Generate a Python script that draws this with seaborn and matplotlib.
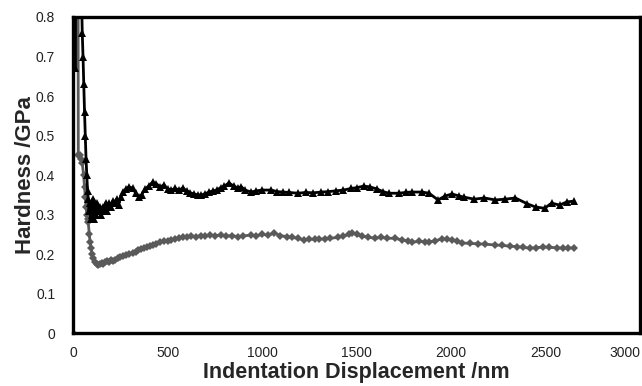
import numpy as np
import pandas as pd
import matplotlib
matplotlib.use("Agg")
import matplotlib.pyplot as plt
import seaborn as sns

# Hardness vs indentation displacement
black_x = [0, 4, 10, 16, 40, 44, 48, 52, 56, 60, 64, 68, 72, 76, 80, 84, 88, 92, 96,
           100, 105, 110, 115, 120, 126, 132, 140, 148, 156, 164, 172, 180, 190, 200,
           210, 220, 230, 240, 252, 266, 280, 295, 314, 330, 346, 362, 380, 400, 420,
           440, 460, 480, 500, 516, 540, 560, 580, 600, 620, 640, 660, 676, 700, 720,
           740, 760, 780, 800, 824, 850, 870, 890, 910, 941, 970, 1000, 1048, 1080,
           1110, 1140, 1191, 1230, 1270, 1314, 1350, 1390, 1430, 1470, 1500, 1537,
           1570, 1606, 1640, 1670, 1723, 1760, 1793, 1846, 1883, 1931, 1968, 2005,
           2043, 2069, 2122, 2176, 2234, 2287, 2340, 2404, 2447, 2495, 2532, 2574,
           2612, 2650]
black_h = [0.0, 1.2, 0.67, 1.2, 1.2, 0.85, 0.76, 0.70, 0.63, 0.56, 0.50, 0.44, 0.40,
           0.36, 0.34, 0.31, 0.33, 0.29, 0.32, 0.30, 0.34, 0.29, 0.33, 0.30, 0.33,
           0.31, 0.32, 0.30, 0.32, 0.31, 0.33, 0.31, 0.33, 0.32, 0.335, 0.33, 0.34,
           0.325, 0.345, 0.357, 0.365, 0.37, 0.367, 0.355, 0.344, 0.35, 0.365, 0.372,
           0.382, 0.378, 0.37, 0.375, 0.365, 0.362, 0.366, 0.362, 0.367, 0.36, 0.355,
           0.352, 0.35, 0.349, 0.353, 0.357, 0.36, 0.362, 0.368, 0.372, 0.38, 0.372,
           0.368, 0.37, 0.362, 0.357, 0.36, 0.362, 0.362, 0.358, 0.357, 0.356, 0.354,
           0.356, 0.355, 0.357, 0.358, 0.36, 0.362, 0.366, 0.368, 0.372, 0.37, 0.365,
           0.358, 0.354, 0.354, 0.356, 0.357, 0.357, 0.354, 0.337, 0.347, 0.352,
           0.347, 0.344, 0.339, 0.342, 0.337, 0.339, 0.342, 0.327, 0.319, 0.316,
           0.329, 0.324, 0.332, 0.334]

gray_x = [0, 4, 25, 27, 35, 42, 48, 55, 60, 64, 68, 72, 76, 80, 85, 90, 95, 100, 107,
          115, 124, 133, 142, 150, 160, 170, 180, 190, 200, 210, 223, 235, 250, 265,
          280, 297, 314, 330, 345, 360, 375, 390, 405, 420, 440, 460, 480, 500, 516,
          540, 560, 580, 600, 625, 650, 675, 700, 725, 750, 782, 810, 840, 870, 900,
          941, 970, 1000, 1030, 1064, 1095, 1130, 1160, 1190, 1223, 1250, 1280, 1300,
          1330, 1360, 1400, 1430, 1460, 1473, 1500, 1527, 1560, 1596, 1630, 1660,
          1702, 1740, 1770, 1793, 1830, 1860, 1883, 1915, 1952, 1980, 2005, 2030,
          2059, 2100, 2140, 2180, 2234, 2270, 2310, 2350, 2380, 2415, 2450, 2484,
          2520, 2560, 2590, 2617, 2650]
gray_h = [0.0, 1.2, 1.2, 0.45, 0.45, 0.44, 0.43, 0.40, 0.37, 0.344, 0.32, 0.30, 0.29,
          0.28, 0.25, 0.23, 0.215, 0.20, 0.19, 0.18, 0.175, 0.172, 0.175, 0.178,
          0.176, 0.18, 0.182, 0.18, 0.185, 0.183, 0.185, 0.19, 0.192, 0.195, 0.198,
          0.20, 0.202, 0.205, 0.21, 0.212, 0.215, 0.218, 0.22, 0.223, 0.225, 0.23,
          0.232, 0.234, 0.235, 0.238, 0.24, 0.243, 0.242, 0.245, 0.244, 0.247, 0.245,
          0.248, 0.247, 0.248, 0.245, 0.247, 0.244, 0.246, 0.248, 0.246, 0.25, 0.248,
          0.253, 0.247, 0.244, 0.242, 0.24, 0.235, 0.238, 0.237, 0.238, 0.238, 0.24,
          0.242, 0.245, 0.25, 0.253, 0.25, 0.245, 0.243, 0.24, 0.242, 0.24, 0.24,
          0.236, 0.233, 0.23, 0.232, 0.231, 0.23, 0.234, 0.238, 0.238, 0.236, 0.232,
          0.228, 0.227, 0.226, 0.225, 0.223, 0.222, 0.22, 0.219, 0.217, 0.215, 0.216,
          0.218, 0.217, 0.216, 0.215, 0.215, 0.216]

x_ticks = [0, 500, 1000, 1500, 2000, 2500, 3000]
y_ticks = [0, 0.1, 0.2, 0.3, 0.4, 0.5, 0.6, 0.7, 0.8]
y_tick_labels = ["0", "0.1", "0.2", "0.3", "0.4", "0.5", "0.6", "0.7", "0.8"]

sns.set_style("white")
plt.rcParams['font.family'] = ['Liberation Sans', 'DejaVu Sans']
tick_family = ['Liberation Sans Narrow', 'Liberation Sans', 'DejaVu Sans']

fig = plt.figure(figsize=(6.42, 3.86), dpi=100)
ax = fig.add_axes([0.114, 0.137, 0.883, 0.819])

black_df = pd.DataFrame({'x': black_x, 'h': black_h})
gray_df = pd.DataFrame({'x': gray_x, 'h': gray_h})

sns.lineplot(data=gray_df, x='x', y='h', ax=ax, color='#5a5a5a', lw=2,
             marker='D', markersize=4, markeredgewidth=0, sort=False)
sns.lineplot(data=black_df, x='x', y='h', ax=ax, color='black', lw=2,
             marker='^', markersize=5.5, markeredgewidth=0, sort=False)

ax.set_xlim(0, 3000)
ax.set_ylim(0, 0.8)
ax.set_xticks(x_ticks)
ax.set_xticklabels([str(t) for t in x_ticks], family=tick_family, fontsize=10)
ax.set_yticks(y_ticks)
ax.set_yticklabels(y_tick_labels, family=tick_family, fontsize=10)
ax.tick_params(axis='x', length=0, colors='#222222', pad=9)
ax.tick_params(axis='y', length=0, colors='#222222', pad=13)
# keep the last x label inside the canvas
ax.get_xticklabels()[-1].set_horizontalalignment('right')
ax.get_xticklabels()[-1].set_x(3000)

for sp in ax.spines.values():
    sp.set_color('black')
    sp.set_linewidth(2.4)

ax.set_xlabel('Indentation Displacement /nm', fontsize=15.5, fontweight='bold', labelpad=2)
ax.set_ylabel('Hardness /GPa', fontsize=16, fontweight='bold', labelpad=0)

fig.savefig('out.png', dpi=100)
